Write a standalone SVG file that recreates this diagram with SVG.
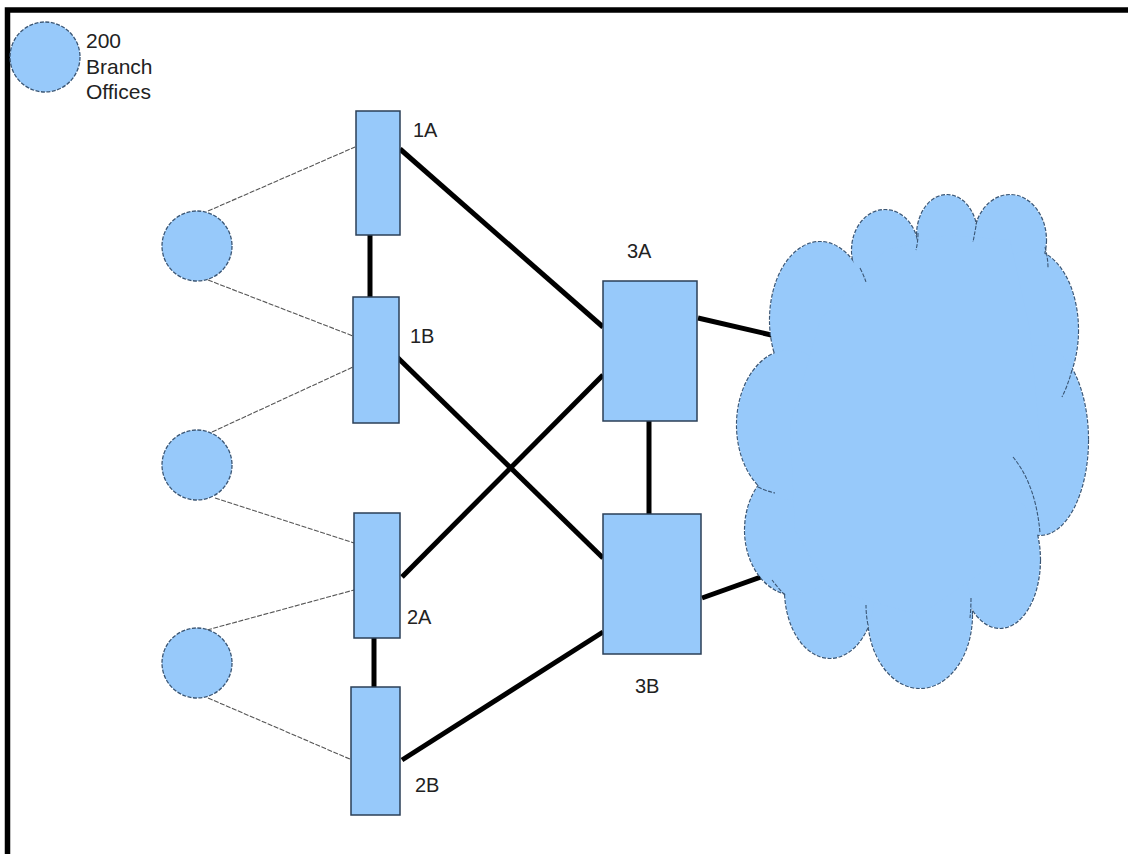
<svg xmlns="http://www.w3.org/2000/svg" width="1128" height="854" viewBox="0 0 1128 854">
<style>
.node{fill:#97c9fa;stroke:#2b3f57;stroke-width:1.5}
.circ{fill:#97c9fa;stroke:#3a5675;stroke-width:1.3;stroke-dasharray:4 1.5}
.thick{stroke:#000;stroke-width:5;fill:none}
.thin{stroke:#555;stroke-width:1.1;fill:none;stroke-dasharray:5 1.5}
.lbl{font-family:"Liberation Sans",Arial,sans-serif;font-size:20px;fill:#222}
.cl-s{fill:none;stroke:#3a5675;stroke-width:2.2;stroke-dasharray:4 1.5}
.cl-f{fill:#97c9fa;stroke:none}
</style>
<rect width="1128" height="854" fill="#fff"/>
<path d="M7.5,854 V10 H1128" fill="none" stroke="#000" stroke-width="5.5" stroke-linejoin="miter"/>

<g id="legend">
  <circle class="circ" cx="45" cy="57" r="35"/>
  <text class="lbl" font-size="21" x="86" y="48" style="font-size:21px">200</text>
  <text class="lbl" x="86" y="74" style="font-size:21px">Branch</text>
  <text class="lbl" x="86" y="99" style="font-size:21px">Offices</text>
</g>

<g id="connectors">
  <line class="thin" x1="208" y1="211" x2="355" y2="147"/>
  <line class="thin" x1="208" y1="280" x2="353" y2="336"/>
  <line class="thin" x1="212" y1="432" x2="353" y2="367"/>
  <line class="thin" x1="215" y1="498" x2="354" y2="543"/>
  <line class="thin" x1="207" y1="630" x2="354" y2="590"/>
  <line class="thin" x1="208" y1="698" x2="352" y2="760"/>
  <line class="thick" x1="370" y1="235" x2="370" y2="297"/>
  <line class="thick" x1="374" y1="638" x2="374" y2="687"/>
  <line class="thick" x1="649" y1="421" x2="649" y2="514"/>
  <line class="thick" x1="400" y1="149" x2="603" y2="327"/>
  <line class="thick" x1="402" y1="577" x2="603" y2="375"/>
  <line class="thick" x1="397" y1="357" x2="603" y2="558"/>
  <line class="thick" x1="402" y1="760" x2="603" y2="632"/>
  <line class="thick" x1="698" y1="318" x2="780" y2="337"/>
  <line class="thick" x1="702" y1="598" x2="772" y2="573"/>
</g>

<g id="office1"><circle class="circ" cx="197" cy="246" r="35"/></g>
<g id="office2"><circle class="circ" cx="197" cy="465" r="35"/></g>
<g id="office3"><circle class="circ" cx="197" cy="663" r="35"/></g>

<g id="n1A"><rect class="node" x="356" y="111" width="44" height="124"/><text class="lbl" x="413" y="137">1A</text></g>
<g id="n1B"><rect class="node" x="353" y="297" width="46" height="126"/><text class="lbl" x="410" y="343">1B</text></g>
<g id="n2A"><rect class="node" x="354" y="513" width="46" height="125"/><text class="lbl" x="407" y="624">2A</text></g>
<g id="n2B"><rect class="node" x="351" y="687" width="49" height="128"/><text class="lbl" x="415" y="792">2B</text></g>
<g id="n3A"><rect class="node" x="603" y="281" width="94" height="140"/><text class="lbl" x="627" y="258">3A</text></g>
<g id="n3B"><rect class="node" x="603" y="514" width="98" height="140"/><text class="lbl" x="635" y="693">3B</text></g>

<g id="cloud">
  <defs>
    <g id="lobes">
      <ellipse cx="820" cy="320" rx="50" ry="78"/>
      <ellipse cx="885" cy="250" rx="33" ry="40"/>
      <ellipse cx="947" cy="235" rx="30" ry="40"/>
      <ellipse cx="1010" cy="240" rx="36" ry="45"/>
      <ellipse cx="1030" cy="330" rx="48" ry="80"/>
      <ellipse cx="1040" cy="440" rx="48" ry="95"/>
      <ellipse cx="1000" cy="560" rx="40" ry="68"/>
      <ellipse cx="920" cy="615" rx="52" ry="73"/>
      <ellipse cx="830" cy="590" rx="45" ry="68"/>
      <ellipse cx="795" cy="530" rx="50" ry="65"/>
      <ellipse cx="790" cy="425" rx="53" ry="75"/>
    </g>
  </defs>
  <use href="#lobes" class="cl-s"/>
  <use href="#lobes" class="cl-f"/>
  <polygon class="cl-f" points="820,320 885,250 947,235 1010,240 1030,330 1040,440 1000,560 920,615 830,590 795,530 790,425"/>
  <path fill="none" stroke="#3a5675" stroke-width="1.1" stroke-dasharray="4 1.5" d="M1013,457 Q1036,485 1040,533 M860,268 Q864,276 866,282 M918,233 Q918,242 916,250 M977,220 Q975,232 973,242 M1045,247 Q1048,258 1048,268 M1072,370 Q1068,385 1062,397 M758,487 Q766,491 775,493 M785,595 Q778,588 772,580 M868,625 Q866,615 866,605 M971,598 Q971,608 970,618"/>
</g>
</svg>
